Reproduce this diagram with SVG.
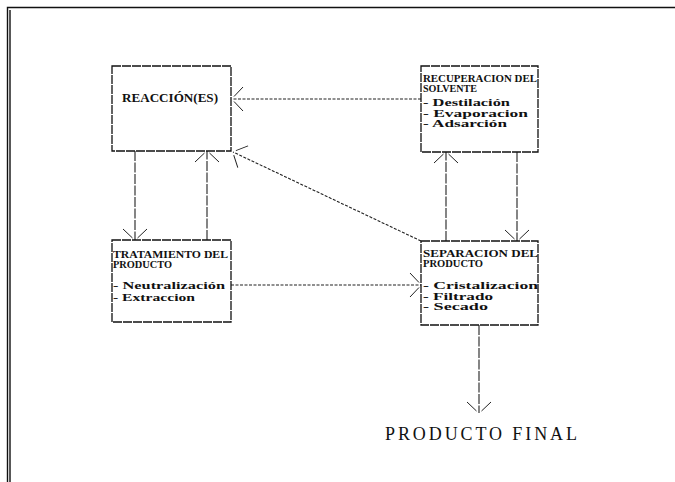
<svg xmlns="http://www.w3.org/2000/svg" width="675" height="482" viewBox="0 0 675 482">
<style>
.box{fill:none;stroke:#111;stroke-width:1.3;stroke-dasharray:9 1}
.frame{fill:none;stroke:#111;stroke-width:1.4}
.h{font-family:"Liberation Serif",serif;font-weight:bold;font-size:9.5px;fill:#111}
.i{font-family:"Liberation Serif",serif;font-weight:bold;font-size:10.5px;fill:#111}
.big{font-family:"Liberation Serif",serif;font-weight:bold;font-size:13px;fill:#111}
.fin{font-family:"Liberation Serif",serif;font-size:18px;fill:#111}
.c{fill:none;stroke:#222;stroke-width:1.1}
.v{stroke-dasharray:10 1.5}
.d{stroke-dasharray:3 1.5}
.ah{fill:none;stroke:#222;stroke-width:1}
</style>
<defs>
<marker id="arr" markerUnits="userSpaceOnUse" markerWidth="30" markerHeight="30" viewBox="-15 -15 30 30" refX="0" refY="0" orient="auto">
<path class="ah" d="M-11,-12 L-2,-2.5 M-11,12 L-2,2.5"/>
</marker>
</defs>
<rect width="675" height="482" fill="#fff"/>
<g id="frame">
<path class="frame" d="M7.5,482 V7.5 H675"/>
<path class="frame" d="M10,482 V10"/>
</g>
<g id="connectors">
<path class="c v" d="M135,151 V240" marker-end="url(#arr)"/>
<path class="c v" d="M207,240 V151" marker-end="url(#arr)"/>
<path class="c v" d="M446,241 V152" marker-end="url(#arr)"/>
<path class="c v" d="M517,152 V241" marker-end="url(#arr)"/>
<path class="c d" d="M421,99 H232" marker-end="url(#arr)"/>
<path class="c d" d="M231,285 H421" marker-end="url(#arr)"/>
<path class="c d" d="M421,241 L233,152" marker-end="url(#arr)"/>
<path class="c v" d="M479,325 V413" marker-end="url(#arr)"/>
</g>
<g id="reaccion">
<rect class="box" x="112" y="66" width="119" height="85"/>
<text class="big" x="122" y="102" textLength="96" lengthAdjust="spacingAndGlyphs">REACCIÓN(ES)</text>
</g>
<g id="recuperacion">
<rect class="box" x="421" y="66" width="117" height="86"/>
<text class="h" x="423" y="82" textLength="114" lengthAdjust="spacingAndGlyphs">RECUPERACION  DEL</text>
<text class="h" x="423" y="91.5" textLength="54" lengthAdjust="spacingAndGlyphs">SOLVENTE</text>
<text class="i" x="423" y="106" textLength="87" lengthAdjust="spacingAndGlyphs">- Destilación</text>
<text class="i" x="423" y="116.5" textLength="105" lengthAdjust="spacingAndGlyphs">- Evaporacion</text>
<text class="i" x="423" y="127" textLength="84" lengthAdjust="spacingAndGlyphs">- Adsarción</text>
</g>
<g id="tratamiento">
<rect class="box" x="112" y="240" width="119" height="82"/>
<text class="h" x="113" y="258" textLength="115" lengthAdjust="spacingAndGlyphs">TRATAMIENTO  DEL</text>
<text class="h" x="113" y="267.5" textLength="59" lengthAdjust="spacingAndGlyphs">PRODUCTO</text>
<text class="i" x="113" y="289" textLength="112" lengthAdjust="spacingAndGlyphs">- Neutralización</text>
<text class="i" x="113" y="301" textLength="82" lengthAdjust="spacingAndGlyphs">- Extraccion</text>
</g>
<g id="separacion">
<rect class="box" x="421" y="241" width="117" height="84"/>
<text class="h" x="423" y="257" textLength="115" lengthAdjust="spacingAndGlyphs">SEPARACION  DEL</text>
<text class="h" x="423" y="266.5" textLength="60" lengthAdjust="spacingAndGlyphs">PRODUCTO</text>
<text class="i" x="423" y="289" textLength="115" lengthAdjust="spacingAndGlyphs">- Cristalizacion</text>
<text class="i" x="423" y="299.5" textLength="70" lengthAdjust="spacingAndGlyphs">- Filtrado</text>
<text class="i" x="423" y="310" textLength="65" lengthAdjust="spacingAndGlyphs">- Secado</text>
</g>
<g id="final">
<text class="fin" x="385" y="440" textLength="192" lengthAdjust="spacing">PRODUCTO  FINAL</text>
</g>
</svg>
